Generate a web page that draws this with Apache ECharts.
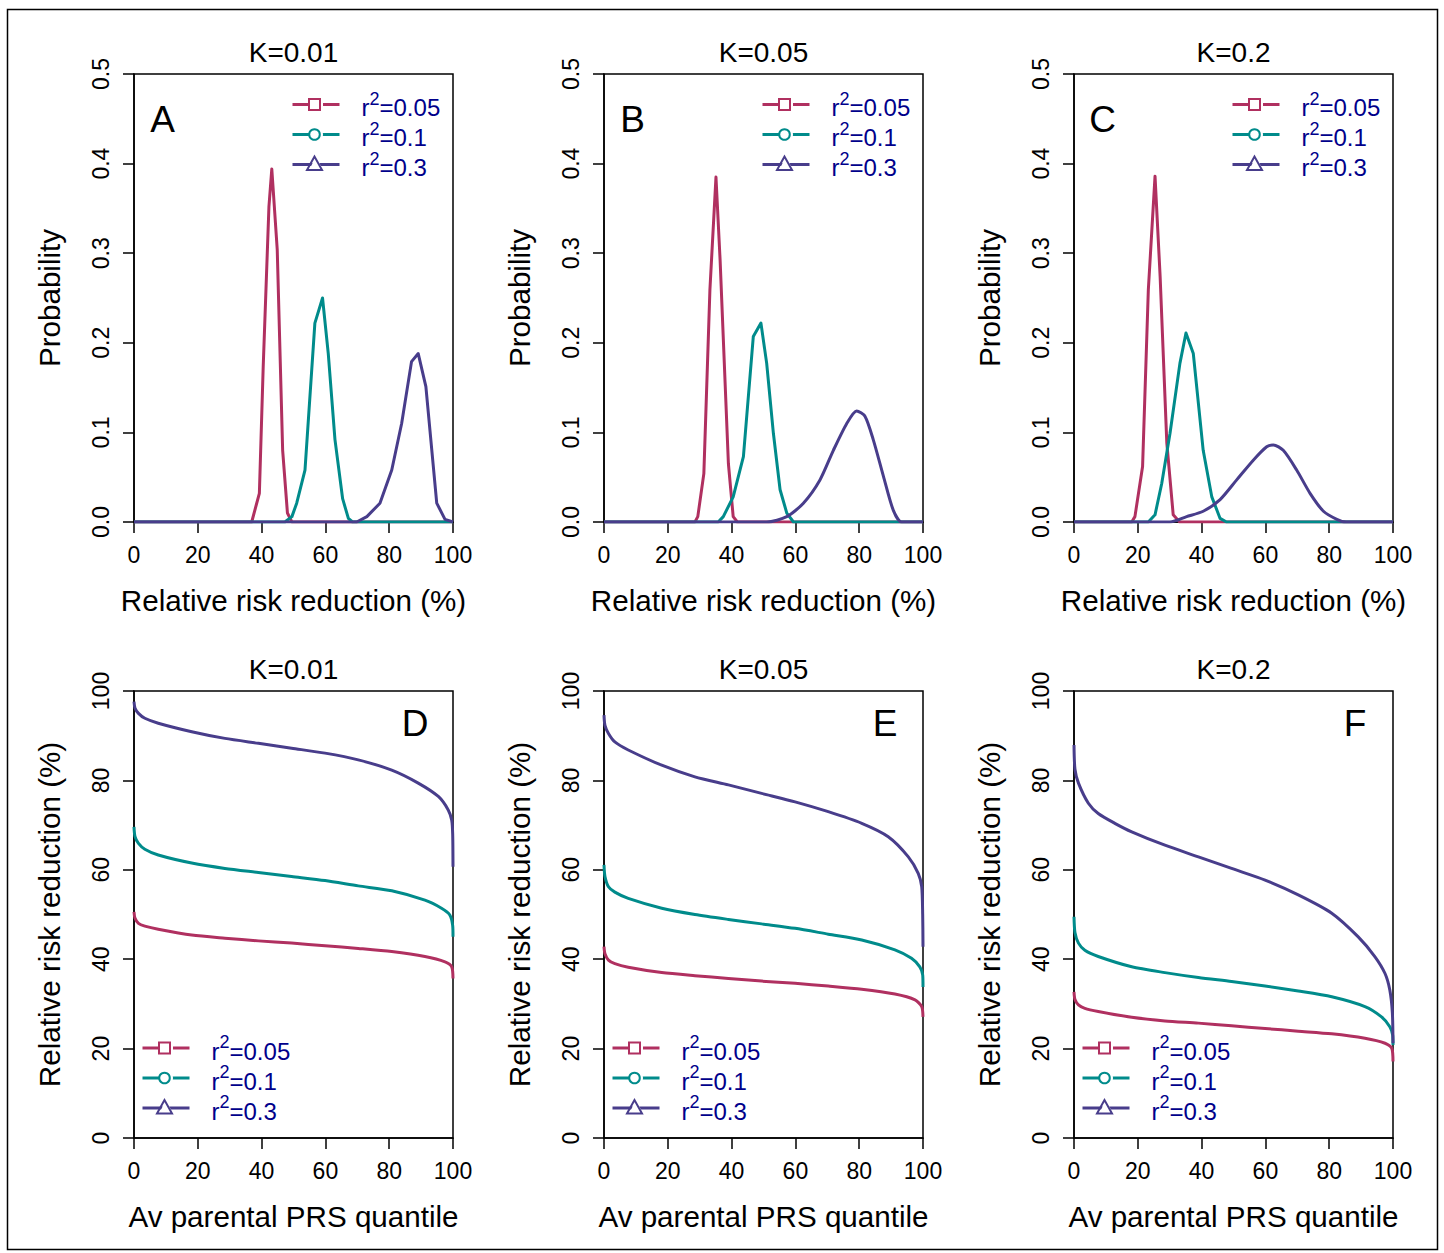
<!DOCTYPE html>
<html><head><meta charset="utf-8">
<script src="https://cdn.jsdelivr.net/npm/echarts@6/dist/echarts.min.js"></script>
<style>html,body{margin:0;padding:0;background:#fff}#c{width:1444px;height:1253px}</style>
</head><body><div id="c"></div>
<script>
// ---------- data ----------
const seriesNames = ['r2=0.05', 'r2=0.1', 'r2=0.3'];
const kTitles = ['K=0.01', 'K=0.05', 'K=0.2'];
const panelLetters = ['A', 'B', 'C', 'D', 'E', 'F'];
const topYTickLabels = ['0.0', '0.1', '0.2', '0.3', '0.4', '0.5'];
const bottomYTickLabels = ['0', '20', '40', '60', '80', '100'];

// Top row: probability vs relative risk reduction (%)
const probA_r05 = [[0,0],[36.9,0],[39.3,0.032],[40.5,0.173],[42.3,0.352],[43.2,0.394],[44.9,0.304],[46.6,0.080],[48.1,0.010],[49.5,0],[100,0]];
const probA_r10 = [[0,0],[47.3,0],[49.5,0.006],[51.0,0.021],[53.6,0.058],[56.7,0.222],[59.1,0.250],[60.9,0.188],[63.0,0.092],[65.4,0.026],[67.2,0.004],[68.5,0],[100,0]];
const probA_r30 = [[0,0],[69.8,0],[73.0,0.006],[77.1,0.021],[80.8,0.058],[83.9,0.110],[87.0,0.179],[89.1,0.188],[91.5,0.151],[94.9,0.021],[97.5,0.003],[100,0]];

const probB_r05 = [[0,0],[28.5,0],[29.4,0.006],[31.3,0.054],[33.2,0.259],[35.1,0.385],[36.4,0.292],[39.0,0.065],[40.5,0.006],[41.8,0],[100,0]];
const probB_r10 = [[0,0],[35.8,0],[37.4,0.006],[40.5,0.028],[43.7,0.073],[46.8,0.207],[49.2,0.222],[51.0,0.177],[53.1,0.099],[55.2,0.036],[57.3,0.010],[59.4,0],[100,0]];
const probB_r30 = [[0,0],[51.0,0],[57.3,0.006],[62.5,0.021],[67.7,0.047],[71.9,0.080],[76.1,0.110],[79.2,0.124],[81.8,0.118],[84.4,0.092],[87.6,0.051],[90.7,0.013],[93.3,0],[100,0]];

const probC_r05 = [[0,0],[18.1,0],[19.1,0.006],[21.5,0.062],[23.3,0.259],[25.4,0.386],[27.0,0.274],[29.1,0.088],[31.1,0.008],[33.1,0],[100,0]];
const probC_r10 = [[0,0],[23.3,0],[25.4,0.008],[27.5,0.043],[30.1,0.099],[33.2,0.177],[35.1,0.211],[37.4,0.188],[40.5,0.080],[43.2,0.028],[45.8,0.004],[47.8,0],[100,0]];
const probC_r30 = [[0,0],[30.1,0],[35.3,0.006],[40.5,0.012],[45.8,0.025],[51.0,0.047],[56.2,0.069],[60.4,0.084],[62.5,0.086],[65.6,0.080],[69.8,0.058],[74.0,0.032],[78.2,0.012],[82.4,0.003],[85.3,0],[100,0]];

// Bottom row: relative risk reduction (%) vs average parental PRS quantile
const rrD_r05 = [[0,50.6],[0.3,49.2],[1.4,48.0],[3.4,47.4],[7.6,46.7],[18.1,45.4],[28.5,44.7],[39.0,44.1],[49.4,43.6],[59.9,43.0],[70.3,42.4],[80.8,41.7],[91.2,40.6],[97.5,39.4],[99.6,38.3],[100,35.7]];
const rrD_r10 = [[0,69.6],[0.3,67.5],[1.4,65.9],[3.4,64.6],[7.6,63.3],[18.1,61.5],[28.5,60.3],[39.0,59.4],[49.4,58.5],[59.9,57.6],[70.3,56.4],[80.8,55.3],[91.2,53.2],[96.4,51.4],[99.0,49.9],[99.9,47.5],[100,45.0]];
const rrD_r30 = [[0,97.6],[0.3,96.2],[1.4,95.0],[3.4,93.9],[7.6,92.8],[18.1,90.9],[28.5,89.4],[39.0,88.3],[49.4,87.2],[59.9,86.1],[70.3,84.6],[80.8,82.3],[89.1,79.4],[95.4,76.4],[98.5,73.4],[99.6,71.1],[99.9,68.0],[100,60.7]];

const rrE_r05 = [[0,42.8],[0.3,41.2],[1.4,39.8],[3.4,39.0],[7.6,38.2],[18.1,37.0],[28.5,36.3],[39.0,35.7],[49.4,35.1],[59.9,34.6],[70.3,34.0],[80.8,33.3],[91.2,32.2],[97.5,30.9],[99.6,29.4],[100,27.1]];
const rrE_r10 = [[0,61.1],[0.3,58.5],[1.4,56.2],[3.4,55.0],[7.6,53.6],[18.1,51.4],[28.5,50.0],[39.0,48.9],[49.4,47.9],[59.9,46.9],[70.3,45.6],[80.8,44.3],[91.2,42.1],[96.4,40.2],[99.0,38.3],[99.9,36.5],[100,33.8]];
const rrE_r30 = [[0,94.6],[0.3,92.3],[1.4,90.5],[3.4,88.6],[7.6,86.8],[18.1,83.4],[28.5,80.8],[39.0,79.0],[49.4,77.1],[59.9,75.2],[70.3,73.0],[80.8,70.4],[89.1,67.4],[95.4,62.9],[98.5,59.2],[99.6,56.2],[99.9,50.0],[100,42.8]];

const rrF_r05 = [[0,32.7],[0.3,31.0],[1.4,29.8],[3.4,29.0],[7.6,28.3],[18.1,27.0],[28.5,26.2],[39.0,25.7],[49.4,25.1],[59.9,24.5],[70.3,23.9],[80.8,23.3],[91.2,22.3],[97.5,21.2],[99.6,20.1],[100,17.1]];
const rrF_r10 = [[0,49.5],[0.3,46.0],[1.4,43.6],[3.4,42.0],[7.6,40.6],[18.1,38.3],[28.5,37.0],[39.0,35.9],[49.4,35.0],[59.9,34.0],[70.3,32.9],[80.8,31.6],[91.2,29.4],[96.4,27.1],[99.0,24.9],[99.9,23.0],[100,20.8]];
const rrF_r30 = [[0,87.9],[0.3,82.5],[1.4,79.4],[4.5,74.9],[7.6,72.6],[12.8,70.4],[18.1,68.5],[28.5,65.5],[39.0,62.9],[49.4,60.3],[59.9,57.7],[70.3,54.4],[80.8,50.3],[89.1,45.0],[94.3,40.6],[97.5,36.8],[99.0,33.1],[99.8,28.0],[100,21.2]];

// ---------- styling ----------
const FONT = "'Liberation Sans', Arial, Helvetica, sans-serif";
const colors = ['#B03060', '#008B8B', '#483D8B'];
const symbols = ['emptyRect', 'emptyCircle', 'emptyTriangle'];

const panels = [
  { row: 0, col: 0, data: [probA_r05, probA_r10, probA_r30], smooth: [0, 0, 0] },
  { row: 0, col: 1, data: [probB_r05, probB_r10, probB_r30], smooth: [0, 0, 0.25] },
  { row: 0, col: 2, data: [probC_r05, probC_r10, probC_r30], smooth: [0, 0, 0.25] },
  { row: 1, col: 0, data: [rrD_r05, rrD_r10, rrD_r30], smooth: [0.25, 0.25, 0.25] },
  { row: 1, col: 1, data: [rrE_r05, rrE_r10, rrE_r30], smooth: [0.25, 0.25, 0.25] },
  { row: 1, col: 2, data: [rrF_r05, rrF_r10, rrF_r30], smooth: [0.25, 0.25, 0.25] }
];

const grids = [], xAxes = [], yAxes = [], series = [], legends = [], graphics = [];

graphics.push({ type: 'rect', shape: { x: 7.5, y: 9.5, width: 1430, height: 1240 },
  style: { fill: 'none', stroke: '#000', lineWidth: 1.5 }, silent: true });

// open legend marker (R pch 0 / 1 / 2) drawn over the legend key line
function legendMarker(k, cx, cy) {
  const st = { fill: 'none', stroke: colors[k], lineWidth: 2 };
  if (k === 0) return { type: 'rect', silent: true, z: 100, shape: { x: cx - 5.5, y: cy - 5.5, width: 11, height: 11 }, style: st };
  if (k === 1) return { type: 'circle', silent: true, z: 100, shape: { cx, cy, r: 5.3 }, style: st };
  return { type: 'polygon', silent: true, z: 100, shape: { points: [[cx, cy - 8], [cx - 7.5, cy + 5.5], [cx + 7.5, cy + 5.5]] }, style: st };
}

panels.forEach((p, i) => {
  const left = 134 + 470 * p.col;
  const top = p.row ? 691 : 74;
  const height = p.row ? 447 : 448;
  grids.push({ left, top, width: 319, height, show: true, borderColor: '#000', borderWidth: 1.5,
    backgroundColor: 'transparent', containLabel: false, outerBoundsMode: 'none' });
  xAxes.push({
    gridIndex: i, type: 'value', min: 0, max: 100, interval: 20,
    name: p.row ? 'Av parental PRS quantile' : 'Relative risk reduction (%)',
    nameLocation: 'middle', nameGap: 63,
    nameTextStyle: { fontSize: 29.6, color: '#000', fontFamily: FONT },
    axisLine: { show: true, onZero: false, lineStyle: { color: '#000', width: 1.5 } },
    axisTick: { show: true, inside: false, length: 11, lineStyle: { color: '#000', width: 1.5 } },
    axisLabel: { show: true, fontSize: 23, color: '#000', margin: 21, fontFamily: FONT,
      showMinLabel: true, showMaxLabel: true, hideOverlap: false },
    splitLine: { show: false }
  });
  const tickLabels = p.row ? bottomYTickLabels : topYTickLabels;
  const yMax = p.row ? 100 : 0.5, yInt = p.row ? 20 : 0.1;
  yAxes.push({
    gridIndex: i, type: 'value', min: 0, max: yMax, interval: yInt,
    name: p.row ? 'Relative risk reduction (%)' : 'Probability',
    nameLocation: 'middle', nameGap: 70, nameRotate: 90,
    nameTextStyle: { fontSize: 29.6, color: '#000', fontFamily: FONT },
    axisLine: { show: true, onZero: false, lineStyle: { color: '#000', width: 1.5 } },
    axisTick: { show: true, inside: false, length: 11, lineStyle: { color: '#000', width: 1.5 } },
    axisLabel: { show: true, rotate: 90, fontSize: 23, color: '#000', margin: 22, fontFamily: FONT,
      showMinLabel: true, showMaxLabel: true, hideOverlap: false,
      formatter: v => tickLabels[Math.round(v / yInt)] },
    splitLine: { show: false }
  });
  p.data.forEach((d, k) => {
    series.push({
      type: 'line', name: seriesNames[k], xAxisIndex: i, yAxisIndex: i, data: d,
      symbol: symbols[k], showSymbol: false, symbolSize: 12,
      color: colors[k],
      lineStyle: { width: 3, color: colors[k], join: 'round' },
      itemStyle: { color: colors[k] },
      smooth: p.smooth[k] || false, clip: true, z: 2 + k, silent: true
    });
  });
  const lgLeft = p.row ? 141 + 470 * p.col : 291 + 470 * p.col;
  const lgTop = p.row ? 1033 : 89.5;
  legends.push({
    orient: 'vertical', left: lgLeft, top: lgTop, padding: 0,
    itemWidth: 47, itemHeight: 15, itemGap: 0, selectedMode: false,
    data: seriesNames.map((n, k) => ({
      name: n,
      itemStyle: { color: '#fff', borderColor: colors[k], borderWidth: 2, opacity: 1 },
      lineStyle: { color: colors[k], width: 3, type: 'solid' }
    })),
    formatter: n => '{g| }{m|r}{s|2}{m|' + n.slice(2) + '}',
    textStyle: {
      fontSize: 24, color: '#00008B', fontFamily: FONT,
      rich: {
        g: { width: 17, lineHeight: 30, fontSize: 24 },
        m: { fontSize: 24, lineHeight: 24, verticalAlign: 'bottom', color: '#00008B', fontFamily: FONT },
        s: { fontSize: 18, lineHeight: 23, verticalAlign: 'top', color: '#00008B', fontFamily: FONT }
      }
    }
  });
  seriesNames.forEach((n, k) => {
    graphics.push(legendMarker(k, lgLeft + 23.5, lgTop + 15 + 30 * k));
  });
  graphics.push({ type: 'text', silent: true,
    x: 293.5 + 470 * p.col, y: p.row ? 669 : 52.5,
    style: { text: kTitles[p.col], fontSize: 28, fontFamily: FONT, fill: '#000', align: 'center', verticalAlign: 'middle' } });
  graphics.push({ type: 'text', silent: true,
    x: p.row ? 415 + 470 * p.col : 162.5 + 470 * p.col, y: p.row ? 723 : 119.5,
    style: { text: panelLetters[i], fontSize: 37, fontFamily: FONT, fill: '#000', align: 'center', verticalAlign: 'middle' } });
});

const chart = echarts.init(document.getElementById('c'), null, { renderer: 'svg' });
chart.setOption({
  animation: false,
  backgroundColor: '#fff',
  textStyle: { fontFamily: FONT },
  grid: grids, xAxis: xAxes, yAxis: yAxes, series, legend: legends, graphic: graphics,
  tooltip: { show: false }
});
</script></body></html>
